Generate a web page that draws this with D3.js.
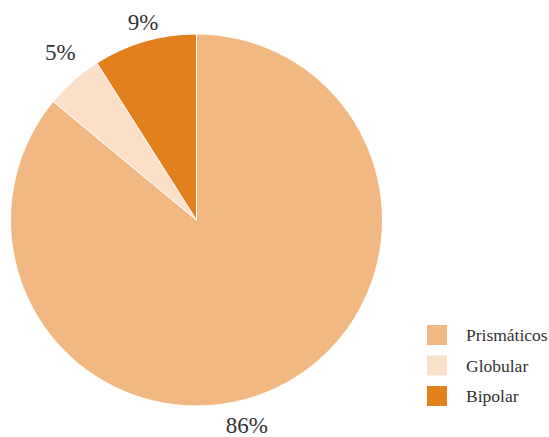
<!DOCTYPE html>
<html>
<head>
<meta charset="utf-8">
<script src="https://cdn.jsdelivr.net/npm/d3@7"></script>
<style>
  html, body { margin: 0; padding: 0; background: #fff; }
  svg { display: block; }
  .t1 { font-family: "Liberation Serif"; }
  .t2 { font-family: "DejaVu Serif"; }
</style>
</head>
<body>
<svg id="chart" width="549" height="437"></svg>
<script>
// Shares of cell types (percent)
const categories = ["Prismáticos", "Globular", "Bipolar"];
const values = [86, 5, 9];
const labels = ["86%", "5%", "9%"];
const colors = ["#F2B882", "#FAE0C8", "#E3801E"];

const svg = d3.select("#chart");
const cx = 196.5, cy = 220, radius = 186;
const fontFamily = "Liberation Serif, DejaVu Serif, serif";

const pie = d3.pie().sort(null).value(d => d)(values);
const arc = d3.arc().innerRadius(0).outerRadius(radius);

const g = svg.append("g").attr("transform", `translate(${cx},${cy})`);

g.selectAll("path.slice")
  .data(pie)
  .join("path")
  .attr("class", "slice")
  .attr("d", arc)
  .attr("fill", (d, i) => colors[i])
  .attr("stroke", "#fff")
  .attr("stroke-width", 1);

// Percentage labels outside the pie; the big slice's label sits near the bottom
const labelRadius = [212, 216, 205];
const labelShift = [0, 0.04, 0.019]; // angle offset (radians) so labels clear the rim
const labelAngle = (d, i) => i === 0 ? Math.PI - 0.24 : (d.startAngle + d.endAngle) / 2 + labelShift[i];
g.selectAll("text.pct")
  .data(pie)
  .join("text")
  .attr("class", "pct")
  .attr("x", (d, i) => labelRadius[i] * Math.sin(labelAngle(d, i)))
  .attr("y", (d, i) => -labelRadius[i] * Math.cos(labelAngle(d, i)))
  .attr("text-anchor", "middle")
  .attr("dominant-baseline", "central")
  .style("font-family", fontFamily)
  .attr("font-size", 23)
  .attr("fill", "#333")
  .text((d, i) => labels[i]);

// Legend
const legend = svg.append("g").attr("transform", "translate(427,325)");
const rowH = 30.5;
const rows = legend.selectAll("g.row")
  .data(categories)
  .join("g")
  .attr("class", "row")
  .attr("transform", (d, i) => `translate(0,${i * rowH})`);

rows.append("rect")
  .attr("width", 20)
  .attr("height", 20)
  .attr("fill", (d, i) => colors[i]);

rows.append("text")
  .attr("x", 39)
  .attr("y", 10)
  .attr("dominant-baseline", "central")
  .style("font-family", fontFamily)
  .attr("font-size", 17.5)
  .attr("fill", "#333")
  .text(d => d);
</script>
</body>
</html>
